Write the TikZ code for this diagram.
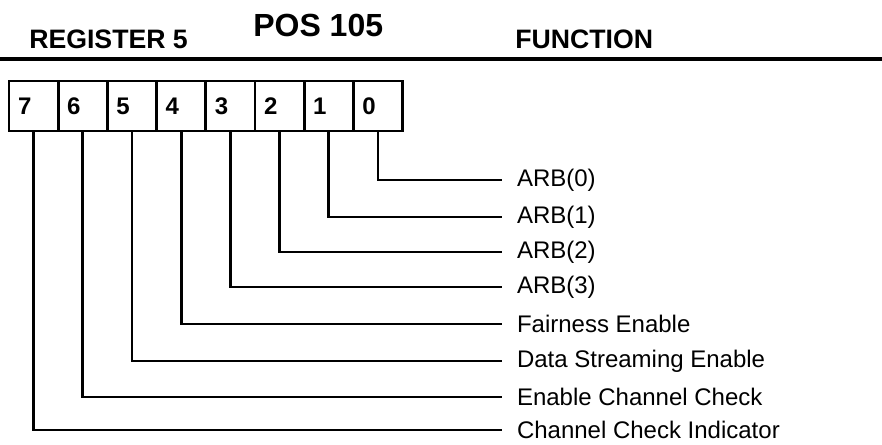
\documentclass[tikz,border=0pt]{standalone}
\usepackage{fontspec}
\setmainfont{Liberation Sans}
\usetikzlibrary{positioning}

\tikzset{
  bitcell/.style={draw, line width=2pt, outer sep=0pt, inner xsep=6.75pt, inner ysep=0pt,
    text width=23.4pt, minimum height=37.5pt, align=left, font=\fontsize{18}{18}\selectfont\bfseries},
  headtext/.style={anchor=base west, inner sep=0pt, font=\fontsize{20}{20}\selectfont\bfseries},
  funclabel/.style={anchor=west, inner xsep=11.25pt, inner ysep=0pt, outer sep=0pt, font=\fontsize{18}{18}\selectfont},
  wire/.style={line width=2.1pt}
}

\begin{document}
\begin{tikzpicture}[x=0.75pt,y=0.75pt,yscale=-1,xscale=1]
\useasboundingbox (0,0) rectangle (882,444);

% Text Node
\node [headtext] (reg) at (29,48) {REGISTER 5};
% Text Node
\node [headtext, font=\fontsize{24}{24}\selectfont\bfseries] (pos) at (253,36) {POS 105};
% Text Node
\node [headtext] (func) at (515,48) {FUNCTION};
%Straight Lines
\draw [line width=2.6pt] (0,59) -- (882,59) ;

%Shape: Bit cells
\node [bitcell, anchor=north west] (b7) at (9,81) {7};
\node [bitcell, right=0pt of b7] (b6) {6};
\node [bitcell, right=0pt of b6] (b5) {5};
\node [bitcell, right=0pt of b5] (b4) {4};
\node [bitcell, right=0pt of b4] (b3) {3};
\node [bitcell, right=0pt of b3] (b2) {2};
\node [bitcell, right=0pt of b2] (b1) {1};
\node [bitcell, right=0pt of b1] (b0) {0};

% Text Node
\node [funclabel] (l0) at (502,180) {ARB(0)};
% Text Node
\node [funclabel] (l1) at (502,217) {ARB(1)};
% Text Node
\node [funclabel] (l2) at (502,252) {ARB(2)};
% Text Node
\node [funclabel] (l3) at (502,287) {ARB(3)};
% Text Node
\node [funclabel] (l4) at (502,324) {Fairness Enable};
% Text Node
\node [funclabel] (l5) at (502,361) {Data Streaming Enable};
% Text Node
\node [funclabel] (l6) at (502,397) {Enable Channel Check};
% Text Node
\node [funclabel] (l7) at (502,430) {Channel Check Indicator};

%Straight Lines
\draw [wire] (b0.south) |- (l0.west) ;
\draw [wire] (b1.south) |- (l1.west) ;
\draw [wire] (b2.south) |- (l2.west) ;
\draw [wire] (b3.south) |- (l3.west) ;
\draw [wire] (b4.south) |- (l4.west) ;
\draw [wire] (b5.south) |- (l5.west) ;
\draw [wire] (b6.south) |- (l6.west) ;
\draw [wire] (b7.south) |- (l7.west) ;

\end{tikzpicture}
\end{document}
